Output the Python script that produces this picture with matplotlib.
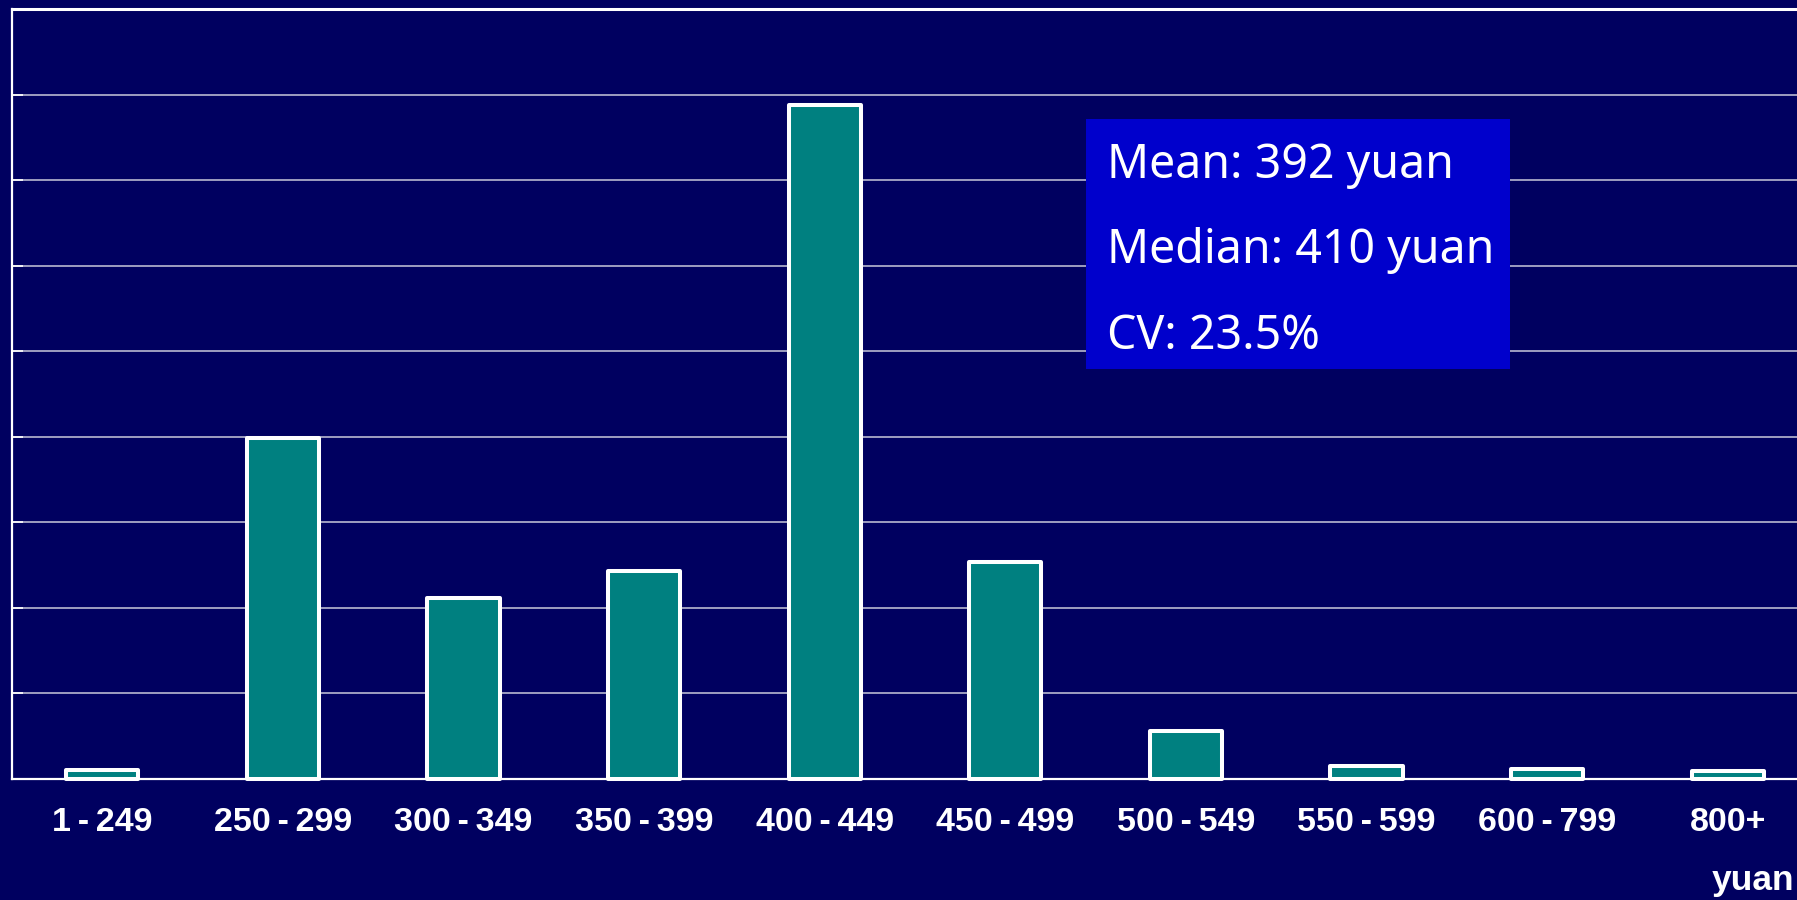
import matplotlib
matplotlib.use("Agg")
import matplotlib.pyplot as plt
from matplotlib.patches import Rectangle

# ---- data ----
categories = ["1-249", "250-299", "300-349", "350-399", "400-449",
              "450-499", "500-549", "550-599", "600-799", "800+"]
shares = [0.54, 19.95, 10.6, 12.15, 39.4, 12.7, 2.8, 0.77, 0.57, 0.46]  # percent
stats_lines = ["Mean: 392 yuan", "Median: 410 yuan", "CV: 23.5%"]
unit_label = "yuan"

BG = "#000060"
TEAL = "#008080"
BOX = "#0000CC"

W, H = 1797, 900
fig = plt.figure(figsize=(W / 100, H / 100), dpi=100, facecolor=BG)

left_px, top_px, bottom_px = 12, 9, 779
step_px = 180.6
ax = fig.add_axes([left_px / W, 1 - bottom_px / H,
                   10 * step_px / W, (bottom_px - top_px) / H])
ax.set_facecolor(BG)

x = list(range(len(categories)))
ax.bar(x, shares, width=0.4, color=TEAL, edgecolor="white",
       linewidth=2.9, joinstyle="round", clip_on=False, zorder=3)

ax.set_xlim(-0.5, len(categories) - 0.5)
ax.set_ylim(0, 45)
ax.set_yticks(range(0, 46, 5))
ax.yaxis.grid(True, color="#B8B8D0", linewidth=1.2)
ax.set_axisbelow(True)

ax.tick_params(axis="y", direction="in", length=8, width=1.2,
               color="white", labelleft=False)
ax.set_xticks(x)
tick_texts = [c.replace("-", "\u2009-\u2009") for c in categories]
ax.set_xticklabels(tick_texts, color="white", fontsize=24.5,
                   fontweight="bold", family="Liberation Sans")
ax.tick_params(axis="x", length=0, pad=20)

for side in ["left", "bottom"]:
    ax.spines[side].set_color("white")
    ax.spines[side].set_linewidth(1.6)
ax.spines["top"].set_color("white")
ax.spines["top"].set_linewidth(2.2)
ax.spines["right"].set_visible(False)

# unit label, anchored at the right edge so it stays fully visible
fig.text(1794 / W, 1 - 890 / H, unit_label, color="white", fontsize=25.5,
         fontweight="bold", family="Liberation Sans", ha="right", va="baseline")

# statistics box
fig.add_artist(Rectangle((1086 / W, 1 - 369 / H), 424 / W, 250 / H,
                         transform=fig.transFigure, facecolor=BOX,
                         edgecolor="none", zorder=5))
for i, line in enumerate(stats_lines):
    fig.text(1107 / W, 1 - (178 + i * 85.5) / H, line, color="white",
             fontsize=33.5, family="Noto Sans", ha="left", va="baseline",
             zorder=6)

fig.savefig("out.png", dpi=100, facecolor=BG)
